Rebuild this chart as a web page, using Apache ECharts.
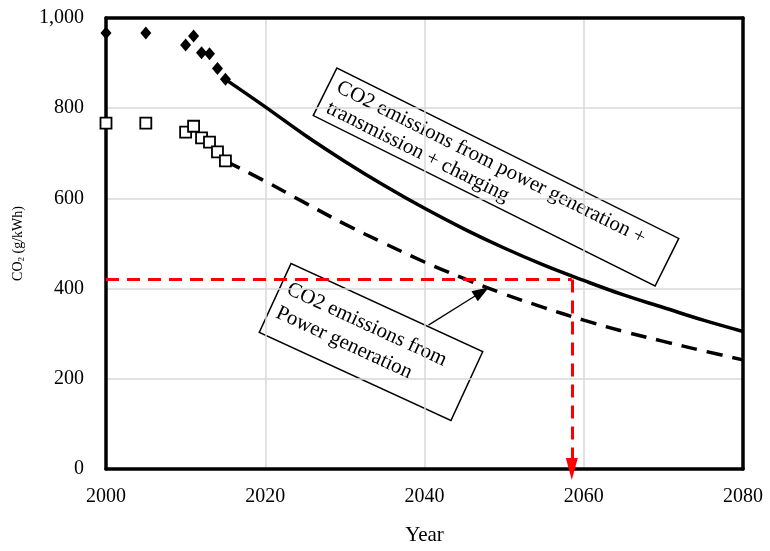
<!DOCTYPE html>
<html>
<head>
<meta charset="utf-8">
<script src="https://cdn.jsdelivr.net/npm/echarts@6/dist/echarts.min.js"></script>
<style>
  html, body { margin: 0; padding: 0; background: #fff; }
  #main { width: 770px; height: 551px; }
</style>
</head>
<body>
<div id="main"></div>
<script>
// 历史数据 (发电+输电+充电)
var histYears = [2000, 2005, 2010, 2011, 2012, 2013, 2014, 2015];
var histTotal = [967, 967, 940, 960, 923, 921, 888, 864];
// 历史数据 (发电)
var histPower = [767, 767, 747, 760, 734, 725, 703, 683];

// 预测曲线
var projYears = [2015, 2020, 2025, 2030, 2035, 2040, 2045, 2050, 2055, 2060, 2065, 2070, 2075, 2080];
var projTotal = [864, 803, 740, 682, 628, 578, 532, 490, 452, 418, 386, 358, 330, 305];
var projPower = [683, 638, 590, 543, 500, 459, 422, 388, 358, 330, 305, 283, 262, 242];

// 红色虚线: 目标值与年份
var targetValue = 420;
var targetYear = 2058.5;

// 箭头 (注释框 -> 虚线)
var arrowFrom = [2040.5, 319];
var arrowTo = [2047.2, 393];

var FONT = 'Liberation Serif';

function pairs(xs, ys) {
    let out = [];
    for (let i = 0; i < xs.length; i++) {
        out.push([xs[i], ys[i]]);
    }
    return out;
}

var chart = echarts.init(document.getElementById('main'));

var deg = Math.PI / 180;
var frame = { show: true, onZero: false, lineStyle: { color: '#000', width: 3.5 } };
var gridLine = { show: true, lineStyle: { color: '#d9d9d9', width: 1.5 } };

var option = {
    animation: false,
    backgroundColor: '#fff',
    grid: { left: 106, right: 27, top: 18, bottom: 80 },
    xAxis: [
        {
            type: 'value',
            min: 2000, max: 2080, interval: 20,
            name: 'Year',
            nameLocation: 'middle',
            nameGap: 56,
            nameTextStyle: { fontFamily: FONT, fontSize: 21, color: '#000' },
            axisLine: frame,
            axisTick: { show: false },
            axisLabel: { fontFamily: FONT, fontSize: 20, color: '#000', margin: 18,
                formatter: function (v) { return String(v); } },
            splitLine: gridLine
        },
        {
            type: 'value', position: 'top',
            min: 2000, max: 2080, interval: 20,
            axisLine: frame, axisTick: { show: false }, axisLabel: { show: false }, splitLine: { show: false }
        }
    ],
    yAxis: [
        {
            type: 'value',
            min: 0, max: 1000, interval: 200,
            name: 'CO{sub|2} (g/kWh)',
            nameLocation: 'middle',
            nameGap: 80,
            nameTextStyle: {
                fontFamily: FONT, fontSize: 14, color: '#000',
                rich: { sub: { fontFamily: FONT, fontSize: 9, color: '#000', verticalAlign: 'bottom', padding: [6, 0, 0, 0] } }
            },
            axisLine: frame,
            axisTick: { show: false },
            axisLabel: {
                fontFamily: FONT, fontSize: 20, color: '#000', margin: 22,
                formatter: function (v) { return v.toLocaleString('en-US'); }
            },
            splitLine: gridLine
        },
        {
            type: 'value', position: 'right',
            min: 0, max: 1000, interval: 200,
            axisLine: frame, axisTick: { show: false }, axisLabel: { show: false }, splitLine: { show: false }
        }
    ],
    series: [
        {
            name: 'total-proj',
            type: 'line',
            data: pairs(projYears, projTotal),
            smooth: 0.4,
            showSymbol: false,
            lineStyle: { color: '#000', width: 3.5 },
            z: 3
        },
        {
            name: 'power-proj',
            type: 'line',
            data: pairs(projYears, projPower),
            smooth: 0.4,
            showSymbol: false,
            lineStyle: { color: '#000', width: 3.5, type: [16, 10] },
            z: 3,
            markLine: {
                silent: true,
                symbol: ['none', 'triangle'],
                symbolSize: [12, 17],
                lineStyle: { color: '#000', width: 1.2, type: 'solid' },
                label: { show: false },
                data: [[{ coord: arrowFrom }, { coord: arrowTo }]]
            }
        },
        {
            name: 'target',
            type: 'line',
            data: [],
            markLine: {
                silent: true,
                label: { show: false },
                lineStyle: { color: '#ff0000', width: 3, type: [13, 8] },
                data: [
                    [{ coord: [2000, targetValue], symbol: 'none' }, { coord: [targetYear, targetValue], symbol: 'none' }],
                    [{ coord: [targetYear, targetValue], symbol: 'none' }, { coord: [targetYear, 0], symbol: 'triangle', symbolSize: [12, 22] }]
                ]
            },
            z: 4
        },
        {
            name: 'total-hist',
            type: 'scatter',
            data: pairs(histYears, histTotal),
            symbol: 'diamond',
            symbolSize: [11, 13],
            itemStyle: { color: '#000', opacity: 1 },
            z: 5
        },
        {
            name: 'power-hist',
            type: 'scatter',
            data: pairs(histYears, histPower),
            symbol: 'rect',
            symbolSize: 11,
            itemStyle: { color: '#fff', borderColor: '#000', borderWidth: 1.8, opacity: 1 },
            z: 5
        }
    ],
    graphic: [
        {
            type: 'group',
            x: 496, y: 177,
            rotation: -26.5 * deg,
            z: 10,
            children: [
                {
                    type: 'rect',
                    shape: { x: -191, y: -26.5, width: 382, height: 53 },
                    style: { fill: '#fff', stroke: '#000', lineWidth: 1.5 }
                },
                {
                    type: 'text',
                    x: -182, y: -22,
                    style: {
                        text: 'CO2 emissions from power generation +\ntransmission + charging',
                        font: '21px "Liberation Serif"',
                        fill: '#000',
                        lineHeight: 23
                    }
                }
            ]
        },
        {
            type: 'group',
            x: 371, y: 342,
            rotation: -24.7 * deg,
            z: 10,
            children: [
                {
                    type: 'rect',
                    shape: { x: -105.5, y: -38, width: 211, height: 76 },
                    style: { fill: '#fff', stroke: '#000', lineWidth: 1.5 }
                },
                {
                    type: 'text',
                    x: -98, y: -27,
                    style: {
                        text: 'CO2 emissions from\nPower generation',
                        font: '21px "Liberation Serif"',
                        fill: '#000',
                        lineHeight: 26
                    }
                }
            ]
        }
    ]
};

chart.setOption(option);
</script>
</body>
</html>
